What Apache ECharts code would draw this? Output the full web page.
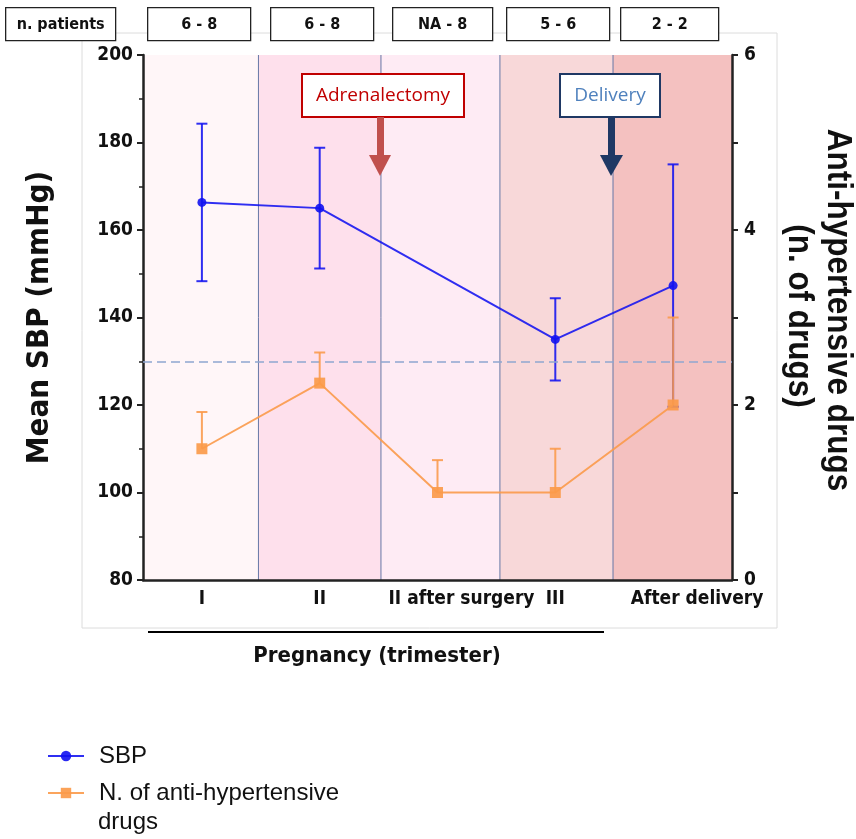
<!DOCTYPE html>
<html>
<head>
<meta charset="utf-8">
<script src="https://cdn.jsdelivr.net/npm/echarts@6/dist/echarts.min.js"></script>
<style>
  html, body { margin: 0; padding: 0; background: #fff; }
  #chart { width: 856px; height: 839px; }
</style>
</head>
<body>
<div id="chart"></div>
<script>
const categories = ["I", "II", "II after surgery", "III", "After delivery"];
const sbpMean = [166.3, 165.0, null, 135.0, 147.3];
const sbpSd = [18.0, 13.8, null, 9.4, 27.7];
const drugMean = [1.5, 2.25, 1.0, 1.0, 2.0];
const drugSd = [0.42, 0.35, 0.37, 0.5, 1.0];
const patientLabels = ["n. patients", "6 - 8", "6 - 8", "NA - 8", "5 - 6", "2 - 2"];
const bandEdges = [-0.5, 0.48, 1.52, 2.53, 3.49, 4.5];
const bandColors = ["#fff6f8", "#fee0ec", "#feebf4", "#f8d8d9", "#f4c1c0"];
const sbpThreshold = 130;

const BLUE = "#1212f0";
const ORANGE = "#fb9a4a";
const narrow = "'DejaVu Sans Condensed', sans-serif";
const arial = "'Liberation Sans', Arial, sans-serif";

const chart = echarts.init(document.getElementById("chart"));

// error bar drawer, lower = false means only upper whisker
function errorBar(color, lower) {
  return function (params, api) {
    const x = api.value(0);
    const top = api.coord([x, api.value(2)]);
    const mid = api.coord([x, api.value(1)]);
    const w = 5.5;
    const style = { stroke: color, lineWidth: 2, opacity: 0.88 };
    const kids = [
      { type: "line", shape: { x1: top[0], y1: top[1], x2: mid[0], y2: mid[1] }, style: style },
      { type: "line", shape: { x1: top[0] - w, y1: top[1], x2: top[0] + w, y2: top[1] }, style: style }
    ];
    if (lower) {
      kids.push({ type: "line", shape: { x1: mid[0] - w, y1: mid[1], x2: mid[0] + w, y2: mid[1] }, style: style });
    }
    return { type: "group", children: kids };
  };
}

// shaded period bands with a thin separator on the left edge
function bandItem(params, api) {
  const i = params.dataIndex;
  const cs = params.coordSys;
  const x0 = api.coord([api.value(0), 100])[0];
  const x1 = api.coord([api.value(1), 100])[0];
  const kids = [
    { type: "rect", shape: { x: x0, y: cs.y, width: x1 - x0, height: cs.height }, style: { fill: bandColors[i] } }
  ];
  if (i > 0) {
    kids.push({ type: "line", shape: { x1: x0, y1: cs.y, x2: x0, y2: cs.y + cs.height }, style: { stroke: "#6677a6", lineWidth: 1 } });
  }
  return { type: "group", children: kids };
}

const sbpErr = [];
sbpMean.forEach((m, i) => {
  if (m != null) sbpErr.push([i, m - sbpSd[i], m + sbpSd[i]]);
});
const drugErr = drugMean.map((m, i) => [i, m, m + drugSd[i]]);
const bandData = bandColors.map((c, i) => [bandEdges[i], bandEdges[i + 1]]);

// top boxes
const boxX = [5, 147, 270, 392, 506, 620];
const boxW = [110, 103, 103, 100, 103, 98];
const graphics = patientLabels.map((t, i) => ({
  type: "group",
  left: boxX[i],
  top: 7,
  children: [
    { type: "rect", shape: { x: 0, y: 0, width: boxW[i], height: 33 }, style: { fill: "#fff", stroke: "#222", lineWidth: 1.3 } },
    { type: "text", x: boxW[i] / 2, y: 17, style: { text: t, fill: "#111", font: "bold 16px " + narrow, align: "center", verticalAlign: "middle" } }
  ]
}));

graphics.push(
  { type: "rect", z: -10, shape: { x: 82, y: 33, width: 695, height: 595 }, style: { fill: "none", stroke: "#dcdcdc", lineWidth: 1 } },
  { type: "line", shape: { x1: 148, y1: 632, x2: 604, y2: 632 }, style: { stroke: "#000", lineWidth: 2 } },
  { type: "text", x: 377, y: 656, style: { text: "Pregnancy (trimester)", fill: "#111", font: "bold 22px " + narrow, align: "center", verticalAlign: "middle" } },
  // right axis title, two lines, slightly squeezed like the original
  { type: "text", x: 838, y: 310, rotation: -Math.PI / 2, scaleX: 0.9, style: { text: "Anti-hypertensive drugs", fill: "#111", font: "bold 35px " + arial, align: "center", verticalAlign: "middle" } },
  { type: "text", x: 799, y: 316, rotation: -Math.PI / 2, scaleX: 0.9, style: { text: "(n. of drugs)", fill: "#111", font: "bold 35px " + arial, align: "center", verticalAlign: "middle" } },
  // adrenalectomy annotation
  { type: "rect", z: 100, shape: { x: 302, y: 74, width: 162, height: 43 }, style: { fill: "#fff", stroke: "#c00000", lineWidth: 2 } },
  { type: "text", z: 101, x: 383, y: 96, style: { text: "Adrenalectomy", fill: "#c00000", font: "19px 'Open Sans', sans-serif", align: "center", verticalAlign: "middle" } },
  { type: "rect", z: 100, shape: { x: 377, y: 117, width: 7, height: 40 }, style: { fill: "#c0504d" } },
  { type: "polygon", z: 100, shape: { points: [[369, 155], [391, 155], [380, 176]] }, style: { fill: "#c0504d" } },
  // delivery annotation
  { type: "rect", z: 100, shape: { x: 560, y: 74, width: 100, height: 43 }, style: { fill: "#fff", stroke: "#1f3864", lineWidth: 2 } },
  { type: "text", z: 101, x: 610, y: 96, style: { text: "Delivery", fill: "#4f81bd", font: "19px 'Open Sans', sans-serif", align: "center", verticalAlign: "middle" } },
  { type: "rect", z: 100, shape: { x: 608, y: 117, width: 7, height: 40 }, style: { fill: "#1f3864" } },
  { type: "polygon", z: 100, shape: { points: [[600, 155], [623, 155], [611, 176]] }, style: { fill: "#1f3864" } },
  // second line of the long legend entry
  { type: "text", x: 98, y: 822, style: { text: "drugs", fill: "#111", font: "24px " + arial, align: "left", verticalAlign: "middle" } }
);

const catLabel = { color: "#111", fontFamily: narrow, fontWeight: "bold", fontSize: 19 };

const option = {
  animation: false,
  backgroundColor: "#fff",
  grid: { left: 143, right: 124, top: 55, bottom: 259, outerBoundsMode: "none" },
  legend: {
    orient: "vertical",
    left: 42,
    top: 739,
    itemWidth: 36,
    itemHeight: 13,
    itemGap: 13,
    data: ["SBP", "N. of anti-hypertensive drugs"],
    formatter: n => (n === "SBP" ? n : "N. of anti-hypertensive"),
    textStyle: { fontFamily: arial, fontSize: 24, lineHeight: 24, color: "#111", padding: [0, 0, 0, 10] }
  },
  xAxis: [
    {
      type: "category",
      data: categories,
      axisLine: { onZero: false, lineStyle: { color: "#222", width: 2.5 } },
      axisTick: { alignWithLabel: true, length: 5, lineStyle: { color: "#222", width: 2 } },
      axisLabel: {
        margin: 10,
        interval: 0,
        formatter: v => (v.length > 4 ? "{w|" + v + "}" : "{n|" + v + "}"),
        rich: {
          n: catLabel,
          w: Object.assign({ padding: [0, 0, 0, 48] }, catLabel)
        }
      }
    },
    { type: "value", min: -0.5, max: 4.5, show: false, axisLine: { onZero: false } }
  ],
  yAxis: [
    {
      type: "value",
      min: 80,
      max: 200,
      interval: 20,
      name: "Mean SBP (mmHg)",
      nameLocation: "middle",
      nameGap: 88,
      nameTextStyle: { fontFamily: narrow, fontWeight: "bold", fontSize: 31, color: "#111" },
      axisLine: { show: true, onZero: false, lineStyle: { color: "#222", width: 2.5 } },
      axisTick: { show: true, length: 6, lineStyle: { color: "#222", width: 2 } },
      minorTick: { show: true, splitNumber: 2, length: 4, lineStyle: { color: "#222", width: 1.5 } },
      splitLine: { show: false },
      axisLabel: { color: "#111", fontFamily: narrow, fontWeight: "bold", fontSize: 19, margin: 10 }
    },
    {
      type: "value",
      min: 0,
      max: 6,
      interval: 2,
      axisLine: { show: true, onZero: false, lineStyle: { color: "#222", width: 2.5 } },
      axisTick: { show: true, length: 6, lineStyle: { color: "#222", width: 2 } },
      minorTick: { show: true, splitNumber: 2, length: 6, lineStyle: { color: "#222", width: 2 } },
      splitLine: { show: false },
      axisLabel: { color: "#111", fontFamily: narrow, fontWeight: "bold", fontSize: 19, margin: 12 }
    }
  ],
  series: [
    {
      name: "bands",
      type: "custom",
      xAxisIndex: 1,
      yAxisIndex: 0,
      data: bandData,
      silent: true,
      z: 0,
      renderItem: bandItem,
      encode: { x: [0, 1], y: [] }
    },
    {
      name: "SBP",
      type: "line",
      data: sbpMean,
      connectNulls: true,
      symbol: "circle",
      symbolSize: 9,
      z: 5,
      itemStyle: { color: BLUE, opacity: 0.9 },
      lineStyle: { color: BLUE, width: 2, opacity: 0.88 },
      markLine: {
        silent: true,
        symbol: "none",
        label: { show: false },
        lineStyle: { color: "#8fa6cf", width: 1.5, type: [9, 5] },
        data: [{ yAxis: sbpThreshold }]
      }
    },
    {
      name: "sbpErr",
      type: "custom",
      data: sbpErr,
      z: 4,
      renderItem: errorBar(BLUE, true),
      encode: { x: 0, y: [1, 2] }
    },
    {
      name: "N. of anti-hypertensive drugs",
      type: "line",
      yAxisIndex: 1,
      data: drugMean,
      symbol: "rect",
      symbolSize: 11,
      z: 7,
      itemStyle: { color: ORANGE, opacity: 0.92 },
      lineStyle: { color: ORANGE, width: 2, opacity: 0.9 }
    },
    {
      name: "drugErr",
      type: "custom",
      yAxisIndex: 1,
      data: drugErr,
      z: 6,
      renderItem: errorBar(ORANGE, false),
      encode: { x: 0, y: [1, 2] }
    }
  ],
  graphic: graphics
};

chart.setOption(option);
</script>
</body>
</html>
